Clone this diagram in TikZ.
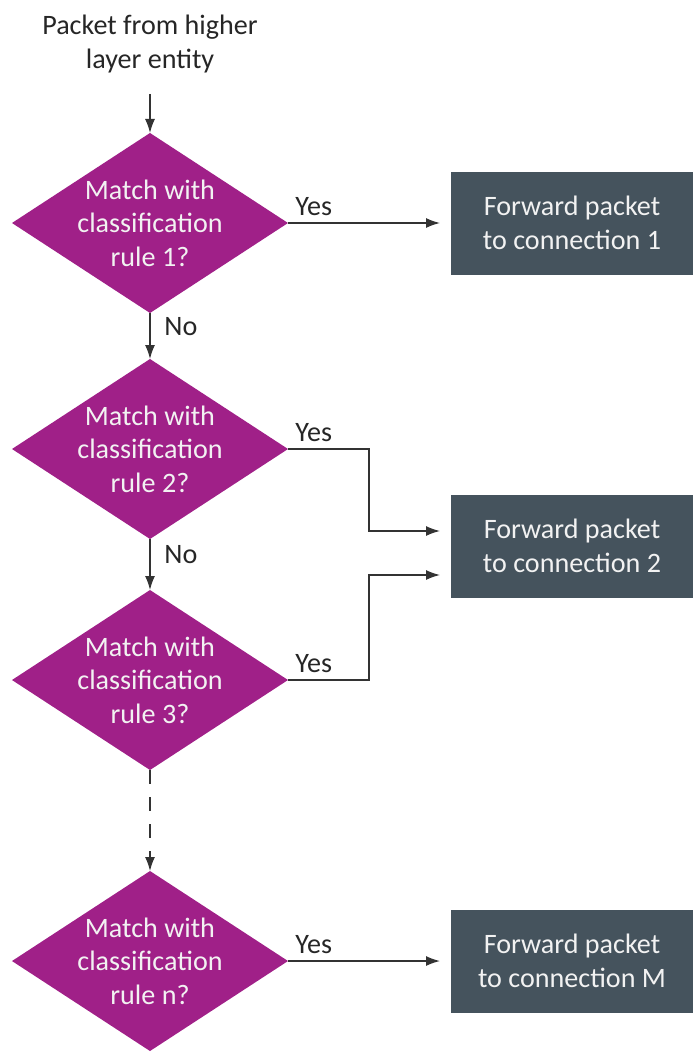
\documentclass[tikz,border=0pt]{standalone}
\usepackage{fontspec}
\setmainfont{Carlito}
\usetikzlibrary{arrows.meta,positioning,shapes.geometric}
\definecolor{rulepurple}{HTML}{A02088}
\definecolor{slate}{HTML}{45535D}

\begin{document}
\begin{tikzpicture}[
  x=0.2mm, y=-0.2mm, >=Latex,
  font=\fontsize{16pt}{19pt}\selectfont,
  decision/.style={diamond,aspect=1.53,fill=rulepurple,text=white!95!black,inner sep=-4pt,outer sep=0pt,
    minimum width=55.2mm,minimum height=36mm,align=center},
  action/.style={fill=slate,text=white!95!black,minimum width=48.4mm,minimum height=20.6mm,
    align=center,inner sep=2pt,outer sep=0pt},
  arr/.style={-{Latex[length=2.8mm,width=2mm]},line width=0.8pt,black!80},
  lbl/.style={text=black!85,inner sep=1pt}]
  \useasboundingbox (0,0) rectangle (693,1052);
  \node[align=center,text=black!85] (src) at (150,44) {Packet from higher\\layer entity};
  \node[decision] (rule1) at (150,223) {Match with\\classification\\rule 1?};
  \node[decision,below=9.2mm of rule1] (rule2) {Match with\\classification\\rule 2?};
  \node[decision,below=10.2mm of rule2] (rule3) {Match with\\classification\\rule 3?};
  \node[decision,below=20.2mm of rule3] (rulen) {Match with\\classification\\rule n?};
  \node[action,right=32.6mm of rule1] (fwd1) {Forward packet\\to connection 1};
  \node[action] (fwd2) at (572,546) {Forward packet\\to connection 2};
  \node[action,right=32.6mm of rulen] (fwdM) {Forward packet\\to connection M};
  % down the chain of rules
  \draw[arr,shorten <=3mm] (src.south) -- (rule1.north);
  \draw[arr] (rule1.south) -- node[lbl,pos=0.3,anchor=west,xshift=2.4mm] {No} (rule2.north);
  \draw[arr] (rule2.south) -- node[lbl,pos=0.3,anchor=west,xshift=2.4mm] {No} (rule3.north);
  \draw[arr,dash pattern=on 2.8mm off 2.6mm] (rule3.south) -- (rulen.north);
  % matches go to the connections
  \draw[arr,shorten >=2.2mm] (rule1.east) -- node[lbl,pos=0,anchor=south west,xshift=1mm,yshift=1mm] {Yes} (fwd1.west);
  \draw[arr,shorten >=2.2mm] (rule2.east) node[lbl,anchor=south west,xshift=1mm,yshift=1mm] {Yes}
    -- ++(81,0) |- ([yshift=3mm]fwd2.west);
  \draw[arr,shorten >=2.2mm] (rule3.east) node[lbl,anchor=south west,xshift=1mm,yshift=1mm] {Yes}
    -- ++(81,0) |- ([yshift=-5.8mm]fwd2.west);
  \draw[arr,shorten >=2.2mm] (rulen.east) -- node[lbl,pos=0,anchor=south west,xshift=1mm,yshift=1mm] {Yes} (fwdM.west);
\end{tikzpicture}
\end{document}
